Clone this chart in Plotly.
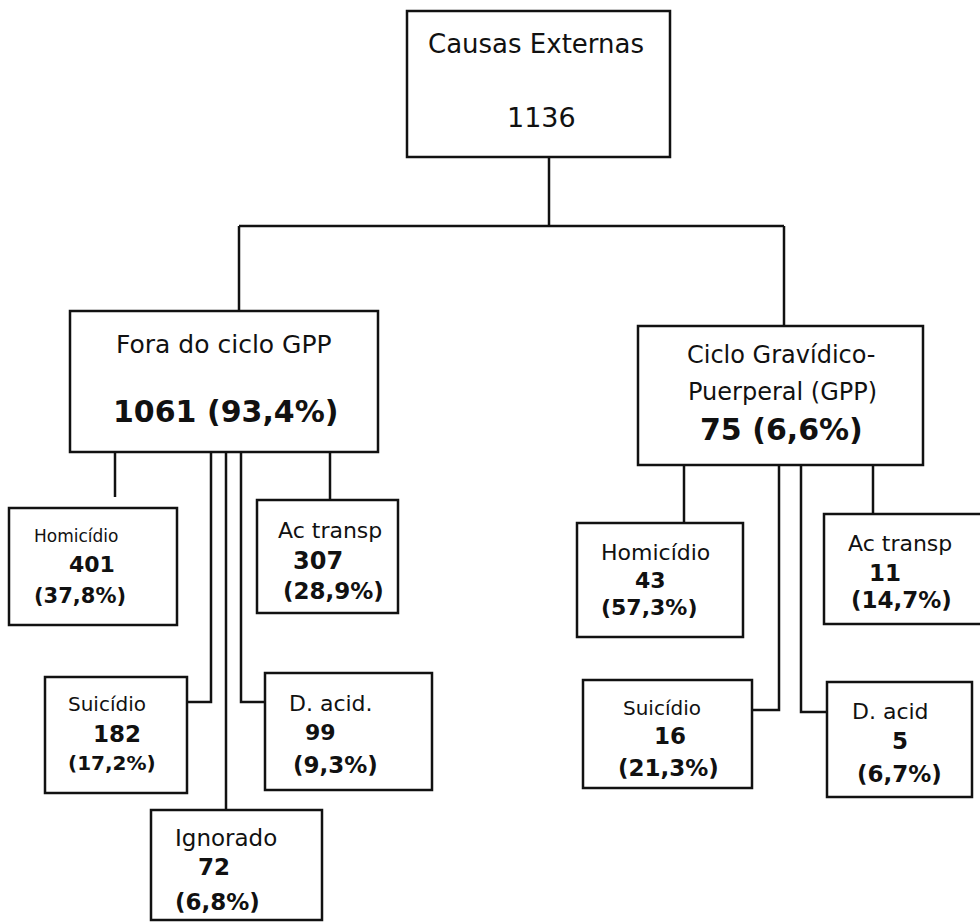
import plotly.graph_objects as go

# ---------------- data ----------------
root_name = "Causas Externas"
root_total = 1136

group_names = ["Fora do ciclo GPP", "Ciclo Gravídico-<br>Puerperal (GPP)"]
group_counts = [1061, 75]
group_pcts = ["93,4%", "6,6%"]

fora_causes = ["Homicídio", "Ac transp", "Suicídio", "D. acid.", "Ignorado"]
fora_counts = [401, 307, 182, 99, 72]
fora_pcts = ["37,8%", "28,9%", "17,2%", "9,3%", "6,8%"]

gpp_causes = ["Homicídio", "Ac transp", "Suicídio", "D. acid"]
gpp_counts = [43, 11, 16, 5]
gpp_pcts = ["57,3%", "14,7%", "21,3%", "6,7%"]

# ---------------- layout (pixel positions on a 980x922 canvas) ----------------
FONT = "DejaVu Sans"
LW = 2.5

root_box = (407, 11, 670, 157)
root_text = [(536, 44, 26), (541, 117, 27)]

group_boxes = [(70, 311, 378, 452), (638, 326, 923, 465)]
group_drop_x = [239, 784]
trunk = (549, 157, 226)  # x, y top, y of branch bar

fora_layout = [
    # box, connector path points, text lines (cx, cy, size)
    ((9, 508, 177, 625), [(115, 452), (115, 497)], [(76, 536, 17), (92, 564, 22), (80, 596, 21)]),
    ((257, 500, 398, 613), [(330, 452), (330, 500)], [(330, 530, 22), (318, 561, 24), (333, 591, 23)]),
    ((45, 677, 187, 793), [(211, 452), (211, 702), (187, 702)], [(107, 704, 20), (117, 734, 23), (112, 763, 20)]),
    ((265, 673, 432, 790), [(241, 452), (241, 702), (265, 702)], [(331, 703, 22), (320, 732, 22), (335, 765, 23)]),
    ((151, 810, 322, 920), [(226, 452), (226, 810)], [(226, 838, 23), (214, 867, 23), (217, 902, 23)]),
]
gpp_layout = [
    ((577, 523, 743, 637), [(684, 465), (684, 523)], [(655, 552, 22), (650, 580, 22), (649, 607, 22)]),
    ((824, 514, 995, 624), [(873, 465), (873, 514)], [(900, 543, 22), (885, 573, 23), (901, 600, 23)]),
    ((583, 680, 752, 788), [(779, 465), (779, 710), (752, 710)], [(662, 708, 20), (670, 736, 23), (668, 768, 23)]),
    ((827, 682, 972, 797), [(801, 465), (801, 712), (827, 712)], [(890, 711, 22), (900, 741, 23), (899, 774, 23)]),
]
group_text = [
    [(224, 344, 25, False), (225, 411, 30, True)],
    [(781, 355, 24, False), (782, 392, 24, False), (781, 429, 30, True)],
]

shapes = []
annotations = []


def box(b):
    x0, y0, x1, y1 = b
    shapes.append(dict(type="rect", xref="x", yref="y", x0=x0, y0=y0, x1=x1, y1=y1,
                       line=dict(color="#111", width=LW), fillcolor="white", layer="above"))


def path(pts):
    d = "M " + " L ".join(f"{x},{y}" for x, y in pts)
    shapes.append(dict(type="path", xref="x", yref="y", path=d,
                       line=dict(color="#111", width=LW), layer="below"))


def text(s, cx, cy, size, bold=False):
    if bold:
        s = f"<b>{s}</b>"
    annotations.append(dict(x=cx, y=cy, xref="x", yref="y", text=s, showarrow=False,
                            xanchor="center", yanchor="middle",
                            font=dict(family=FONT, size=size, color="#111")))


# root
box(root_box)
text(root_name, *root_text[0])
text(str(root_total), *root_text[1])
path([(trunk[0], trunk[1]), (trunk[0], trunk[2])])
path([(group_drop_x[0], trunk[2]), (group_drop_x[1], trunk[2])])

# groups
for gi in range(2):
    b = group_boxes[gi]
    path([(group_drop_x[gi], trunk[2]), (group_drop_x[gi], b[1])])
    box(b)
    tl = group_text[gi]
    name_lines = group_names[gi].split("<br>")
    for li, nm in enumerate(name_lines):
        cx, cy, sz, bd = tl[li]
        text(nm, cx, cy, sz, bd)
    cx, cy, sz, bd = tl[-1]
    text(f"{group_counts[gi]} ({group_pcts[gi]})", cx, cy, sz, bd)

# leaves
for causes, counts, pcts, lay in [(fora_causes, fora_counts, fora_pcts, fora_layout),
                                  (gpp_causes, gpp_counts, gpp_pcts, gpp_layout)]:
    for i in range(len(causes)):
        b, conn, tl = lay[i]
        path(conn)
        box(b)
        text(causes[i], *tl[0])
        text(str(counts[i]), *tl[1], bold=True)
        text(f"({pcts[i]})", *tl[2], bold=True)

fig = go.Figure()
fig.add_trace(go.Scatter(x=[0, 980], y=[0, 922], mode="markers",
                         marker=dict(opacity=0), hoverinfo="skip", showlegend=False))
fig.update_layout(
    width=980, height=922,
    margin=dict(l=0, r=0, t=0, b=0),
    paper_bgcolor="white", plot_bgcolor="white",
    xaxis=dict(range=[0, 980], visible=False, fixedrange=True),
    yaxis=dict(range=[922, 0], visible=False, fixedrange=True),
    shapes=shapes, annotations=annotations,
    showlegend=False,
)
fig.write_html("out.html", config={"displayModeBar": False},
               post_script="document.body.style.margin='0';document.body.style.overflow='hidden';")
